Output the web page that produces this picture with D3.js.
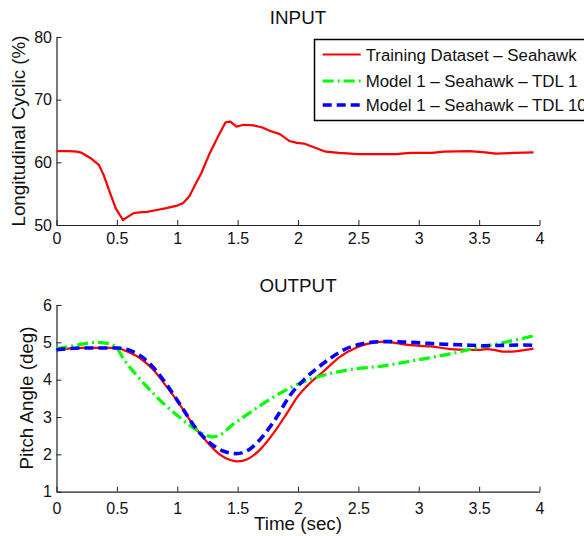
<!DOCTYPE html>
<html>
<head>
<meta charset="utf-8">
<script src="https://cdn.jsdelivr.net/npm/d3@7"></script>
<style>
  html, body { margin: 0; padding: 0; background: #fff; }
  svg { display: block; font-family: "Liberation Sans", Arial, Helvetica, sans-serif; }
</style>
</head>
<body>
<svg id="chart" width="584" height="536"></svg>
<script>
// ---- Input: longitudinal cyclic stick (%) ----
const inputTime   = [0, 0.1, 0.17, 0.21, 0.28, 0.35, 0.39, 0.44, 0.49, 0.55, 0.59, 0.64, 0.69, 0.75, 0.83, 0.91, 1.0, 1.05, 1.1, 1.14, 1.2, 1.27, 1.34, 1.40, 1.44, 1.49, 1.55, 1.63, 1.7, 1.77, 1.85, 1.93, 1.99, 2.05, 2.12, 2.23, 2.34, 2.5, 2.62, 2.81, 2.93, 3.11, 3.21, 3.42, 3.55, 3.64, 3.79, 3.95];
const inputCyclic = [61.8, 61.8, 61.7, 61.5, 60.7, 59.6, 58.0, 55.3, 52.7, 50.8, 51.3, 51.9, 52.0, 52.1, 52.4, 52.7, 53.1, 53.5, 54.6, 56.1, 58.3, 61.5, 64.2, 66.4, 66.5, 65.7, 66.0, 65.9, 65.6, 65.0, 64.5, 63.4, 63.1, 63.0, 62.5, 61.7, 61.5, 61.3, 61.3, 61.3, 61.5, 61.5, 61.7, 61.8, 61.6, 61.4, 61.5, 61.6];

// ---- Output: pitch angle (deg) ----
const trainTime  = [0, 0.22, 0.5, 0.58, 0.69, 0.80, 0.91, 1.02, 1.13, 1.24, 1.35, 1.44, 1.5, 1.58, 1.69, 1.80, 1.91, 2.0, 2.1, 2.21, 2.35, 2.49, 2.63, 2.72, 2.85, 2.99, 3.1, 3.26, 3.4, 3.51, 3.57, 3.62, 3.7, 3.76, 3.87, 3.95];
const trainPitch = [4.80, 4.85, 4.85, 4.76, 4.58, 4.27, 3.82, 3.34, 2.80, 2.36, 2.00, 1.85, 1.81, 1.87, 2.14, 2.58, 3.11, 3.56, 3.91, 4.22, 4.62, 4.87, 5.00, 5.02, 4.96, 4.91, 4.89, 4.82, 4.80, 4.80, 4.82, 4.80, 4.75, 4.75, 4.79, 4.83];

const tdl1Time  = [0, 0.11, 0.22, 0.33, 0.44, 0.5, 0.55, 0.66, 0.77, 0.88, 0.99, 1.11, 1.22, 1.3, 1.35, 1.46, 1.6, 1.74, 1.88, 2.02, 2.16, 2.29, 2.43, 2.71, 2.99, 3.26, 3.48, 3.68, 3.81, 3.95];
const tdl1Pitch = [4.83, 4.89, 4.96, 5.00, 4.96, 4.85, 4.58, 4.13, 3.74, 3.38, 3.07, 2.76, 2.54, 2.47, 2.51, 2.80, 3.11, 3.42, 3.69, 3.91, 4.07, 4.18, 4.27, 4.37, 4.53, 4.69, 4.85, 4.98, 5.07, 5.17];

const tdl10Time  = [0, 0.22, 0.5, 0.61, 0.72, 0.83, 0.94, 1.05, 1.16, 1.27, 1.38, 1.49, 1.6, 1.71, 1.82, 1.93, 2.05, 2.16, 2.27, 2.38, 2.49, 2.6, 2.74, 2.87, 3.04, 3.21, 3.37, 3.54, 3.7, 3.87, 3.95];
const tdl10Pitch = [4.80, 4.85, 4.85, 4.78, 4.58, 4.22, 3.74, 3.20, 2.67, 2.31, 2.09, 2.02, 2.14, 2.49, 2.98, 3.56, 4.00, 4.31, 4.58, 4.80, 4.93, 5.00, 5.02, 5.01, 4.98, 4.95, 4.93, 4.91, 4.92, 4.93, 4.92];

// ---- Axis ticks and labels ----
const timeTicks   = [0, 0.5, 1, 1.5, 2, 2.5, 3, 3.5, 4];
const cyclicTicks = [50, 60, 70, 80];
const pitchTicks  = [1, 2, 3, 4, 5, 6];
const legendLabels = ["Training Dataset \u2013 Seahawk", "Model 1 \u2013 Seahawk \u2013 TDL 1", "Model 1 \u2013 Seahawk \u2013 TDL 10"];

const svg = d3.select("#chart");

const x = d3.scaleLinear().domain([0, 4]).range([56.5, 539.5]);
const yTop = d3.scaleLinear().domain([50, 80]).range([225, 37]);
const yBot = d3.scaleLinear().domain([1, 6]).range([491.7, 305]);

const fmt = d => String(d);

function drawAxes(y, yTicks, xPad) {
  const g = svg.append("g");
  const xa = g.append("g")
    .attr("transform", `translate(0,${y.range()[0]})`)
    .call(d3.axisBottom(x).tickValues(timeTicks).tickFormat(fmt)
      .tickSizeInner(-5).tickSizeOuter(0).tickPadding(xPad));
  const ya = g.append("g")
    .attr("transform", `translate(${x.range()[0]},0)`)
    .call(d3.axisLeft(y).tickValues(yTicks).tickFormat(fmt)
      .tickSizeInner(-5).tickSizeOuter(0).tickPadding(4.5));
  [xa, ya].forEach(a => {
    a.select(".domain").attr("stroke", "#222").attr("stroke-width", 1.2);
    a.selectAll(".tick line").attr("stroke", "#222").attr("stroke-width", 1);
    a.selectAll(".tick text").attr("fill", "#111").attr("font-size", 16)
      .attr("font-family", "'Liberation Sans', Arial, sans-serif");
  });
}

drawAxes(yTop, cyclicTicks, 7.5);
drawAxes(yBot, pitchTicks, 10.5);

// Titles and axis labels
const labelFont = 18.8;
svg.append("text").attr("x", 298).attr("y", 24).attr("text-anchor", "middle")
  .attr("font-size", labelFont).attr("fill", "#111").text("INPUT");
svg.append("text").attr("x", 298).attr("y", 291.5).attr("text-anchor", "middle")
  .attr("font-size", labelFont).attr("fill", "#111").text("OUTPUT");
svg.append("text").attr("x", 298).attr("y", 530).attr("text-anchor", "middle")
  .attr("font-size", labelFont).attr("fill", "#111").text("Time (sec)");
svg.append("text").attr("transform", "translate(25,131) rotate(-90)").attr("text-anchor", "middle")
  .attr("font-size", labelFont).attr("fill", "#111").text("Longitudinal Cyclic (%)");
svg.append("text").attr("transform", "translate(33,398) rotate(-90)").attr("text-anchor", "middle")
  .attr("font-size", labelFont).attr("fill", "#111").text("Pitch Angle (deg)");

// Series styles
const styles = [
  { color: "#ff0000", width: 2.2, dash: null },
  { color: "#00ff00", width: 3.2, dash: "11,4,2,4" },
  { color: "#0000ff", width: 3.6, dash: "9,5" }
];

function drawLine(ts, vs, y, st, curve) {
  const pts = ts.map((t, i) => [t, vs[i]]);
  svg.append("path").datum(pts)
    .attr("fill", "none")
    .attr("stroke", st.color)
    .attr("stroke-width", st.width)
    .attr("stroke-linejoin", "round")
    .attr("stroke-dasharray", st.dash)
    .attr("d", d3.line().x(d => x(d[0])).y(d => y(d[1])).curve(curve));
}

// Input
drawLine(inputTime, inputCyclic, yTop, styles[0], d3.curveLinear);

// Output (red first, models drawn on top)
drawLine(trainTime, trainPitch, yBot, styles[0], d3.curveMonotoneX);
drawLine(tdl1Time, tdl1Pitch, yBot, styles[1], d3.curveMonotoneX);
drawLine(tdl10Time, tdl10Pitch, yBot, styles[2], d3.curveMonotoneX);

// Legend
const lg = svg.append("g");
lg.append("rect").attr("x", 314.5).attr("y", 39.5).attr("width", 290).attr("height", 81)
  .attr("fill", "#fff").attr("stroke", "#000").attr("stroke-width", 1.5);
const rowY = [54.5, 81, 105];
legendLabels.forEach((lab, i) => {
  const st = styles[i];
  lg.append("line").attr("x1", 322.7).attr("x2", 360.7).attr("y1", rowY[i]).attr("y2", rowY[i])
    .attr("stroke", st.color).attr("stroke-width", st.width).attr("stroke-dasharray", st.dash);
  lg.append("text").attr("x", 365.7).attr("y", rowY[i]).attr("dy", "0.36em")
    .attr("font-size", 16.85).attr("fill", "#111").text(lab);
});
</script>
</body>
</html>
